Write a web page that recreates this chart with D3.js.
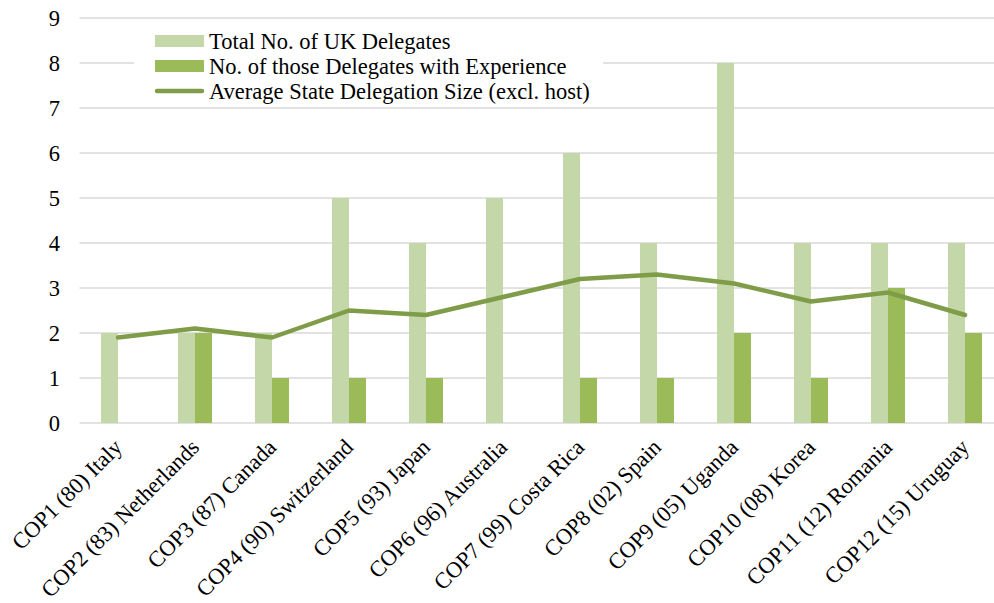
<!DOCTYPE html>
<html>
<head>
<meta charset="utf-8">
<script src="https://cdn.jsdelivr.net/npm/d3@7"></script>
<style>
  body { margin: 0; background: #fff; }
</style>
</head>
<body>
<svg id="chart" width="994" height="603" font-family="'Liberation Serif', 'DejaVu Serif', serif"></svg>
<script>
const categories = [
  'COP1 (80) Italy', 'COP2 (83) Netherlands', 'COP3 (87) Canada',
  'COP4 (90) Switzerland', 'COP5 (93) Japan', 'COP6 (96) Australia',
  'COP7 (99) Costa Rica', 'COP8 (02) Spain', 'COP9 (05) Uganda',
  'COP10 (08) Korea', 'COP11 (12) Romania', 'COP12 (15) Uruguay'
];
const totalDelegates = [2, 2, 2, 5, 4, 5, 6, 4, 8, 4, 4, 4];
const experienced = [0, 2, 1, 1, 1, 0, 1, 1, 2, 1, 3, 2];
const avgDelegation = [1.9, 2.1, 1.9, 2.5, 2.4, 2.8, 3.2, 3.3, 3.1, 2.7, 2.9, 2.4];
const yTicks = [0, 1, 2, 3, 4, 5, 6, 7, 8, 9];
const legendLabels = [
  'Total No. of UK Delegates',
  'No. of those Delegates with Experience',
  'Average State Delegation Size (excl. host)'
];

const colors = { total: '#c4d7a9', exp: '#9bbb59', line: '#7f9c48', grid: '#d9d9d9' };

const svg = d3.select('#chart');
const plot = { left: 79.5, right: 1003.5, top: 18, bottom: 423 };

const x = d3.scaleBand()
  .domain(categories)
  .range([plot.left, plot.right]);

const y = d3.scaleLinear()
  .domain([0, 9])
  .range([plot.bottom, plot.top]);

const barW = 17;

// gridlines
svg.append('g')
  .selectAll('line')
  .data(yTicks)
  .join('line')
    .attr('x1', plot.left)
    .attr('x2', plot.right)
    .attr('y1', d => y(d))
    .attr('y2', d => y(d))
    .attr('stroke', colors.grid)
    .attr('stroke-width', 1.5);

// y labels
svg.append('g')
  .selectAll('text')
  .data(yTicks)
  .join('text')
    .attr('x', 60)
    .attr('y', d => y(d))
    .attr('dy', '0.35em')
    .attr('text-anchor', 'end')
    .attr('font-size', 22.5)
    .text(d => d);

const cx = d => x(d) + x.bandwidth() / 2;

// bars
svg.append('g')
  .selectAll('rect')
  .data(categories)
  .join('rect')
    .attr('x', d => cx(d) - barW)
    .attr('y', (d, i) => y(totalDelegates[i]))
    .attr('width', barW)
    .attr('height', (d, i) => y(0) - y(totalDelegates[i]))
    .attr('fill', colors.total);

svg.append('g')
  .selectAll('rect')
  .data(categories)
  .join('rect')
    .attr('x', d => cx(d))
    .attr('y', (d, i) => y(experienced[i]))
    .attr('width', barW)
    .attr('height', (d, i) => y(0) - y(experienced[i]))
    .attr('fill', colors.exp);

// line
const line = d3.line()
  .x((d, i) => cx(categories[i]))
  .y(d => y(d));

svg.append('path')
  .datum(avgDelegation)
  .attr('d', line)
  .attr('fill', 'none')
  .attr('stroke', colors.line)
  .attr('stroke-width', 4.5)
  .attr('stroke-linecap', 'round')
  .attr('stroke-linejoin', 'round');

// x labels
svg.append('g')
  .selectAll('text')
  .data(categories)
  .join('text')
    .attr('transform', d => `translate(${cx(d)}, 443) rotate(-45)`)
    .attr('text-anchor', 'end')
    .attr('dy', '0.35em')
    .attr('font-size', 22.5)
    .text(d => d);

// legend
const legend = svg.append('g')
  .attr('transform', 'translate(134, 26)');

legend.append('rect')
  .attr('width', 469)
  .attr('height', 76)
  .attr('fill', '#fff');

const items = legend.selectAll('g')
  .data(legendLabels)
  .join('g')
    .attr('transform', (d, i) => `translate(0, ${i * 25})`);

items.each(function (d, i) {
  const g = d3.select(this);
  if (i < 2) {
    g.append('rect')
      .attr('x', 21)
      .attr('y', 9)
      .attr('width', 49)
      .attr('height', 12)
      .attr('fill', i === 0 ? colors.total : colors.exp);
  } else {
    g.append('line')
      .attr('x1', 23)
      .attr('x2', 68)
      .attr('y1', 15)
      .attr('y2', 15)
      .attr('stroke', colors.line)
      .attr('stroke-width', 4.5)
      .attr('stroke-linecap', 'round');
  }
  g.append('text')
    .attr('x', 75)
    .attr('y', 15)
    .attr('dy', '0.35em')
    .attr('font-size', 22.5)
    .text(d);
});
</script>
</body>
</html>
